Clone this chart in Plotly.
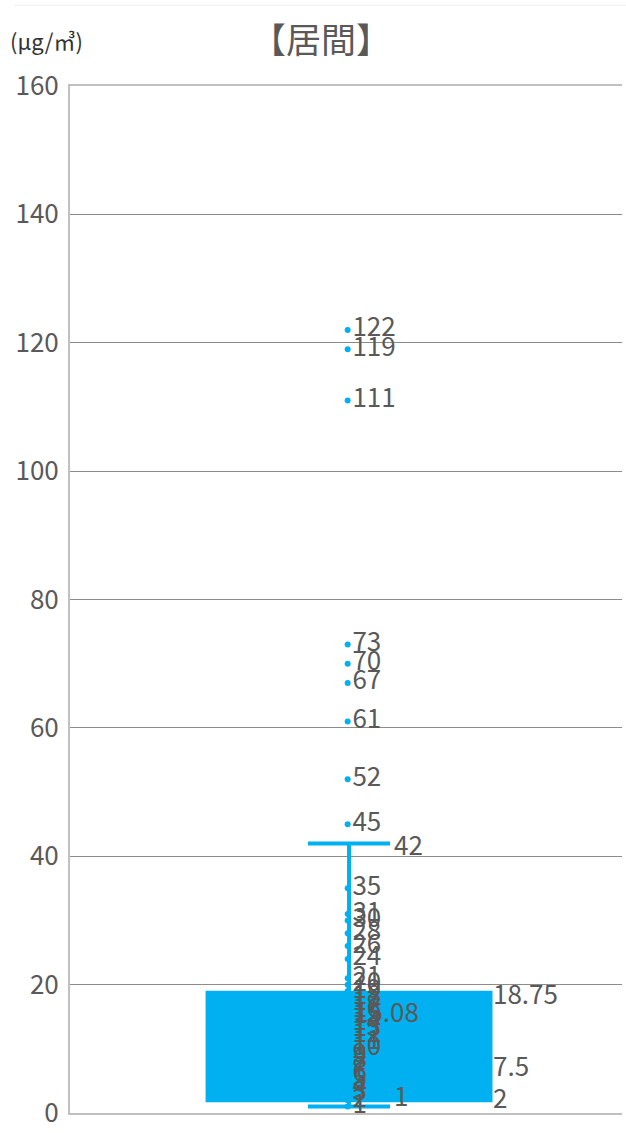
import plotly.graph_objects as go

# Box statistics (μg/㎥)
stat_min = 1
stat_q1 = 2
stat_median = 7.5
stat_q3 = 18.75
stat_max = 42
stat_mean = 15.08

# Individual measurements shown as labelled points
point_values = [122, 119, 111, 73, 70, 67, 61, 52, 45, 35, 31, 30, 28, 26, 24,
                21, 20, 19, 18, 17, 16, 15, 14, 13, 12, 11, 10,
                9, 8, 7, 6, 5, 4, 3, 2, 1]

y_ticks = [0, 20, 40, 60, 80, 100, 120, 140, 160]

BLUE = "#00B0F0"
TEXT = "#595959"
FONT = "Noto Sans CJK JP"
CENTER = 0.011

fig = go.Figure()

fig.add_trace(go.Box(
    x=[CENTER],
    q1=[stat_q1], median=[stat_median], q3=[stat_q3],
    lowerfence=[stat_min], upperfence=[stat_max], mean=[stat_mean],
    width=1.025,
    whiskerwidth=0.29,
    fillcolor=BLUE,
    line=dict(color=BLUE, width=4),
    boxpoints=False,
    hoverinfo="skip",
    showlegend=False,
))

fig.add_trace(go.Scatter(
    x=[CENTER - 0.005] * len(point_values),
    y=point_values,
    mode="markers+text",
    marker=dict(color=BLUE, size=6),
    text=[str(v) for v in point_values],
    textposition="middle right",
    textfont=dict(family=FONT, size=26, color=TEXT),
    cliponaxis=False,
    showlegend=False,
    hoverinfo="skip",
))

# Labels for the box statistics
stat_labels = [
    (0.525, stat_q3, "18.75", 0),
    (0.525, stat_median, "7.5", 0),
    (0.525, stat_q1, "2", 4),
    (0.02, stat_mean, "15.08", 6),
    (0.165, stat_max, "42", 0),
    (0.165, stat_min, "1", 12),
]
for x, y, txt, dy in stat_labels:
    fig.add_annotation(
        x=x, y=y, text=txt, showarrow=False,
        xanchor="left", yanchor="middle", yshift=dy,
        font=dict(family=FONT, size=26, color=TEXT),
    )

fig.add_annotation(
    xref="paper", yref="paper", x=0.454, y=1, yshift=49,
    text="【居間】", showarrow=False, xanchor="center", yanchor="middle",
    font=dict(family=FONT, size=35, color=TEXT),
)
fig.add_annotation(
    xref="paper", yref="paper", x=-0.112, y=1, yshift=46,
    text="(μg/㎥)", showarrow=False, xanchor="left", yanchor="middle",
    font=dict(family=FONT, size=22, color="#333333"),
)

fig.update_layout(
    width=626, height=1133,
    margin=dict(l=70, r=4, t=86, b=17),
    paper_bgcolor="white",
    plot_bgcolor="white",
    xaxis=dict(
        range=[-1, 1], showticklabels=False, showgrid=False, zeroline=False,
        showline=True, mirror=True, linecolor="#c0c0c0", linewidth=2,
        fixedrange=True,
    ),
    yaxis=dict(
        range=[0, 160], tickvals=y_ticks, showgrid=True, gridcolor="#8c8c8c",
        gridwidth=1, zeroline=False, showline=True, linecolor="#c0c0c0",
        linewidth=2, ticks="", ticklabelstandoff=4,
        tickfont=dict(family=FONT, size=26, color=TEXT),
    ),
)

# faint rule across the top of the page
fig.add_shape(type="line", xref="paper", yref="paper",
              x0=-0.1, x1=1.01, y0=1.0786, y1=1.0786,
              line=dict(color="#eeeeee", width=1))

fig.write_html("out.html")
